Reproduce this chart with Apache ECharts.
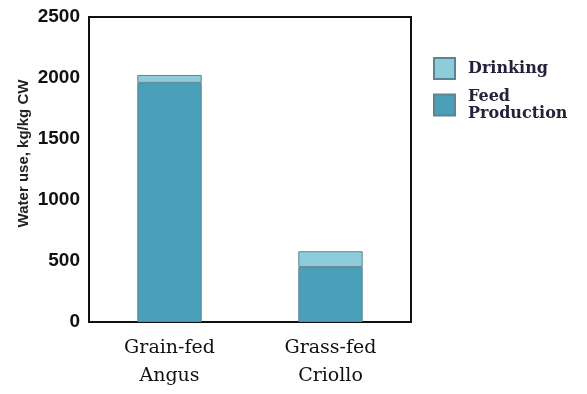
<!DOCTYPE html>
<html>
<head>
<meta charset="utf-8">
<script src="https://cdn.jsdelivr.net/npm/echarts@6/dist/echarts.min.js"></script>
<style>
  html, body { margin: 0; padding: 0; background: #ffffff; }
  #chart { width: 587px; height: 394px; }
</style>
</head>
<body>
<div id="chart"></div>
<script>
// Water use per kg carcass weight, split by source
const categories = ['Grain-fed\nAngus', 'Grass-fed\nCriollo'];
const feedProduction = [1960, 450];
const drinking = [65, 130];
const yTicks = { min: 0, max: 2500, interval: 500 };

const chart = echarts.init(document.getElementById('chart'), null, { renderer: 'canvas' });

const edge = '#5d8591';

chart.setOption({
  backgroundColor: '#ffffff',
  animation: false,
  grid: {
    left: 89, right: 176, top: 17, bottom: 72,
    show: true, borderColor: '#111111', borderWidth: 2, backgroundColor: 'transparent'
  },
  legend: {
    orient: 'vertical',
    left: 428, top: 52,
    itemWidth: 21, itemHeight: 21, itemGap: 8,
    icon: 'rect',
    data: ['Drinking', 'Feed Production'],
    formatter: n => n === 'Feed Production' ? 'Feed\nProduction' : n,
    textStyle: {
      fontFamily: 'DejaVu Serif', fontWeight: 'bold', fontSize: 16,
      color: '#22223a', lineHeight: 17, padding: [0, 0, 0, 8]
    }
  },
  xAxis: {
    type: 'category',
    data: categories,
    axisLine: { show: true, lineStyle: { color: '#111111', width: 2 } },
    axisTick: { show: false },
    axisLabel: {
      margin: 12, fontFamily: 'DejaVu Serif', fontSize: 19, lineHeight: 28, color: '#111111'
    }
  },
  yAxis: {
    type: 'value',
    min: yTicks.min, max: yTicks.max, interval: yTicks.interval,
    name: 'Water use, kg/kg CW',
    nameLocation: 'middle', nameGap: 58, nameMoveOverlap: false,
    nameTextStyle: {
      fontFamily: 'Liberation Sans', fontWeight: 'bold', fontSize: 15, color: '#222222',
      padding: [0, 0, 0, 32]
    },
    splitLine: { show: false },
    axisLine: { show: true, lineStyle: { color: '#111111', width: 2 } },
    axisTick: { show: false },
    axisLabel: {
      margin: 9, fontFamily: 'Liberation Sans', fontWeight: 'bold', fontSize: 19, color: '#111111',
      formatter: v => String(v)
    }
  },
  series: [
    {
      name: 'Feed Production', type: 'bar', stack: 'water', barWidth: '40%',
      data: feedProduction,
      itemStyle: { color: '#4aa0b9', borderColor: edge, borderWidth: 1 }
    },
    {
      name: 'Drinking', type: 'bar', stack: 'water',
      data: drinking,
      itemStyle: { color: '#8ecbdb', borderColor: edge, borderWidth: 1 }
    }
  ]
});
</script>
</body>
</html>
